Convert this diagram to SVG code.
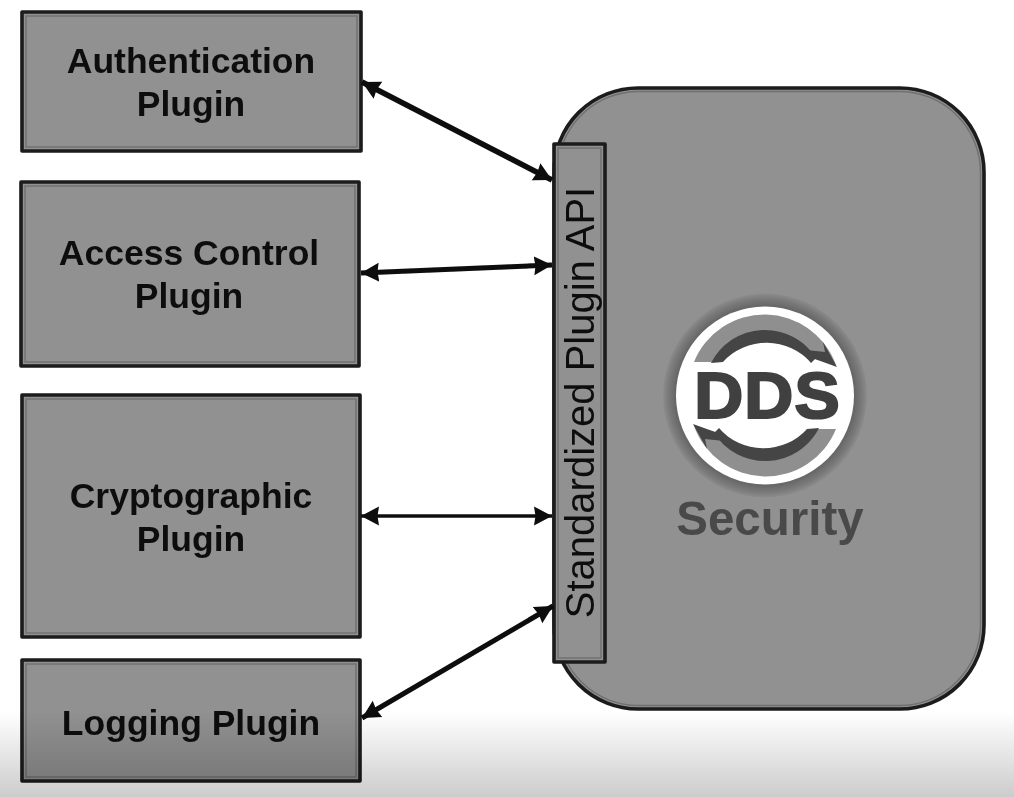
<svg xmlns="http://www.w3.org/2000/svg" width="1014" height="797" viewBox="0 0 1014 797">
<defs>
<style>
.box{fill:#919191;stroke:#1c1c1c;stroke-width:3.6;stroke-linejoin:round}
.inner{fill:none;stroke:#707070;stroke-width:1.4}
.lbl{font-family:"Liberation Sans",Arial,sans-serif;font-weight:700;font-size:35.500px;fill:#111;text-anchor:middle}
.conn{stroke:#0a0a0a;fill:none}
</style>
<marker id="ah" markerUnits="userSpaceOnUse" markerWidth="20" markerHeight="22" refX="18" refY="11" orient="auto-start-reverse"><path d="M0,1.500L18,11L0,20.500L1.500,11Z" fill="#0a0a0a"/></marker>
<radialGradient id="halo" gradientUnits="userSpaceOnUse" cx="765" cy="395.500" r="102"><stop offset=".85" stop-color="#5f5f5f"/><stop offset=".95" stop-color="#7a7a7a"/><stop offset="1" stop-color="#8c8c8c"/></radialGradient>
<linearGradient id="fade" x1="0" y1="0" x2="0" y2="1"><stop offset="0" stop-color="#000" stop-opacity="0"/><stop offset="1" stop-color="#000" stop-opacity=".2"/></linearGradient>
<filter id="soft" x="-2%" y="-2%" width="104%" height="104%"><feGaussianBlur stdDeviation=".55"/></filter>
</defs>
<rect width="1014" height="797" fill="#fff"/>
<g filter="url(#soft)">
<g id="dds-security">
<rect class="box" x="554" y="88" width="430" height="621" rx="84"/>
<rect class="inner" x="557.500" y="91.500" width="423" height="614" rx="81"/>
<circle cx="765" cy="395.500" r="102" fill="url(#halo)"/>
<circle cx="765" cy="395.500" r="89" fill="#fff"/>
<g id="swoosh-top">
<path d="M694,362A76,76 0 0 1 836,365L812,358A60,60 0 0 0 714,362Z" fill="#8f8f8f"/>
<path d="M711,363A60.500,60.500 0 0 1 816,358L811,363A57,54 0 0 0 723,362Z" fill="#454545"/>
<path d="M837,367L823,342L825,352L806,350L812,358Z" fill="#454545"/>
</g>
<g id="swoosh-bottom" transform="rotate(180 765 395.500)">
<path d="M694,362A76,76 0 0 1 836,365L812,358A60,60 0 0 0 714,362Z" fill="#8f8f8f"/>
<path d="M711,363A60.500,60.500 0 0 1 816,358L811,363A57,54 0 0 0 723,362Z" fill="#454545"/>
<path d="M837,367L823,342L825,352L806,350L812,358Z" fill="#454545"/>
</g>
<text transform="translate(767.500 418) scale(1.060 1)" text-anchor="middle" font-family="'Liberation Sans',Arial,sans-serif" font-weight="700" font-size="64" letter-spacing="1" fill="#404040" stroke="#404040" stroke-width="2.200">DDS</text>
<text x="770" y="535" text-anchor="middle" font-family="'Liberation Sans',Arial,sans-serif" font-weight="700" font-size="47.500" fill="#4a4a4a">Security</text>
</g>
<g id="plugin-api">
<rect class="box" x="554" y="144" width="51" height="518"/>
<rect class="inner" x="558" y="148" width="43" height="510"/>
<text transform="translate(594 402.500) rotate(-90)" text-anchor="middle" font-family="'Liberation Sans',Arial,sans-serif" font-size="40" fill="#111">Standardized Plugin API</text>
</g>
<g id="auth-plugin">
<rect class="box" x="22" y="12" width="339" height="139"/>
<rect class="inner" x="26" y="16" width="331" height="131"/>
<text class="lbl" x="191" y="73">Authentication</text>
<text class="lbl" x="191" y="116">Plugin</text>
</g>
<g id="access-plugin">
<rect class="box" x="21" y="182" width="338" height="184"/>
<rect class="inner" x="25" y="186" width="330" height="176"/>
<text class="lbl" x="189" y="265">Access Control</text>
<text class="lbl" x="189" y="308">Plugin</text>
</g>
<g id="crypto-plugin">
<rect class="box" x="22" y="395" width="338" height="242"/>
<rect class="inner" x="26" y="399" width="330" height="234"/>
<text class="lbl" x="191" y="508">Cryptographic</text>
<text class="lbl" x="191" y="551">Plugin</text>
</g>
<g id="logging-plugin">
<rect class="box" x="22" y="660" width="338" height="121"/>
<rect class="inner" x="26" y="664" width="330" height="113"/>
<text class="lbl" x="191" y="735">Logging Plugin</text>
</g>
<g id="connectors">
<line class="conn" stroke-width="5.500" x1="362" y1="82" x2="552" y2="180" marker-start="url(#ah)" marker-end="url(#ah)"/>
<line class="conn" stroke-width="5" x1="361" y1="273" x2="552" y2="265" marker-start="url(#ah)" marker-end="url(#ah)"/>
<line class="conn" stroke-width="3.500" x1="361" y1="516" x2="552" y2="516" marker-start="url(#ah)" marker-end="url(#ah)"/>
<line class="conn" stroke-width="5" x1="362" y1="718" x2="553" y2="606" marker-start="url(#ah)" marker-end="url(#ah)"/>
</g>
</g>
<rect x="0" y="712" width="1014" height="85" fill="url(#fade)"/>
</svg>
